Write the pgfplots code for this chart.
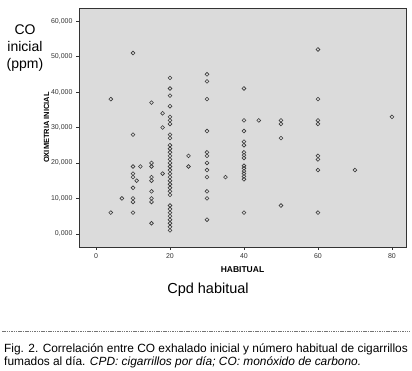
\documentclass[border=0pt]{standalone}
\usepackage{pgfplots}
\pgfplotsset{compat=1.18}
\usepackage{fontspec}
\setmainfont{Liberation Sans}
\begin{document}
\begin{tikzpicture}[x=1pt,y=1pt]
\path[use as bounding box] (0,0) rectangle (412,371);
\begin{axis}[
  at={(79pt,124pt)}, anchor=south west,
  scale only axis, width=327pt, height=239pt,
  xmin=-4.6, xmax=83.8, ymin=-3.7, ymax=63.7,
  xtick={0,20,40,60,80}, ytick={0,10,20,30,40,50,60},
  tick align=outside, xtick pos=bottom, ytick pos=left,
  major tick length=3pt,
  axis background/.style={fill=black!14},
  axis line style={black!80, line width=0.6pt},
  every tick/.style={black!80, line width=0.5pt},
  ticklabel style={font=\fontsize{7}{8}\selectfont, text=black!80},
  yticklabel={\pgfmathprintnumber[fixed, fixed zerofill, precision=3, use comma, 1000 sep={}, assume math mode=true]{\tick}},
  xticklabel={\pgfmathprintnumber[assume math mode=true]{\tick}},
  xlabel={\textbf{HABITUAL}},
  xlabel style={font=\fontsize{8.5}{9}\selectfont, at={(axis description cs:0.5,0)}, anchor=north, yshift=-16pt},
  ylabel={\textbf{OXIMETRIA INICIAL}},
  ylabel style={font=\fontsize{7.5}{8}\selectfont, yshift=-5pt},
  clip=false,
]
\addplot[only marks, mark=o, mark size=1.9pt, black!78, mark options={line width=0.6pt}] coordinates {
(20,44) (20,41) (20,39) (20,36) (20,33) (20,32) (20,31) (20,28) (20,27)
(20,25) (20,24) (20,23) (20,22) (20,21) (20,20) (20,19) (20,18) (20,17) (20,16) (20,15) (20,14) (20,13) (20,12) (20,11)
(20,8) (20,7) (20,6) (20,5) (20,4) (20,3) (20,2) (20,1)
(10,51) (10,28) (10,19) (10,17) (10,16) (11,15) (10,13) (10,10) (10,9) (10,6)
(4,38) (4,6) (7,10) (12,19)
(15,37) (15,20) (15,19) (15,16) (15,15) (15,12) (15,10) (15,9) (15,3)
(18,34) (18,30) (18,17)
(25,22) (25,19)
(30,45) (30,43) (30,38) (30,29) (30,23) (30,22) (30,20) (30,18) (30,16) (30,12) (30,10) (30,4)
(35,16)
(40,41) (40,32) (40,29) (40,26) (40,25) (40,23) (40,22.2) (40,21.4) (40,19.2) (40,18.5) (40,17.7) (40,17) (40,16.2) (40,15.4) (40,6)
(44,32)
(50,32) (50,31) (50,27) (50,8)
(60,52) (60,38) (60,32) (60,31) (60,22) (60,21) (60,18) (60,6)
(70,18) (80,33)
};
\end{axis}
\node[align=center, font=\fontsize{14}{17}\selectfont] at (25,323) {CO\\inicial\\(ppm)};
\node[font=\fontsize{14.5}{16}\selectfont] at (208,81) {Cpd habitual};
\draw[black!55, dash pattern=on 1.5pt off 0.8pt, line width=0.6pt] (2,40) -- (410,40);
\node[anchor=base west, inner sep=0, font=\fontsize{11.9}{13}\selectfont] at (4,18) {Fig. 2. Correlación entre CO exhalado inicial y número habitual de cigarrillos};
\node[anchor=base west, inner sep=0, font=\fontsize{11.9}{13}\selectfont] at (4,5.5) {fumados al día. \textit{CPD: cigarrillos por día; CO: monóxido de carbono.}};
\end{tikzpicture}
\end{document}
